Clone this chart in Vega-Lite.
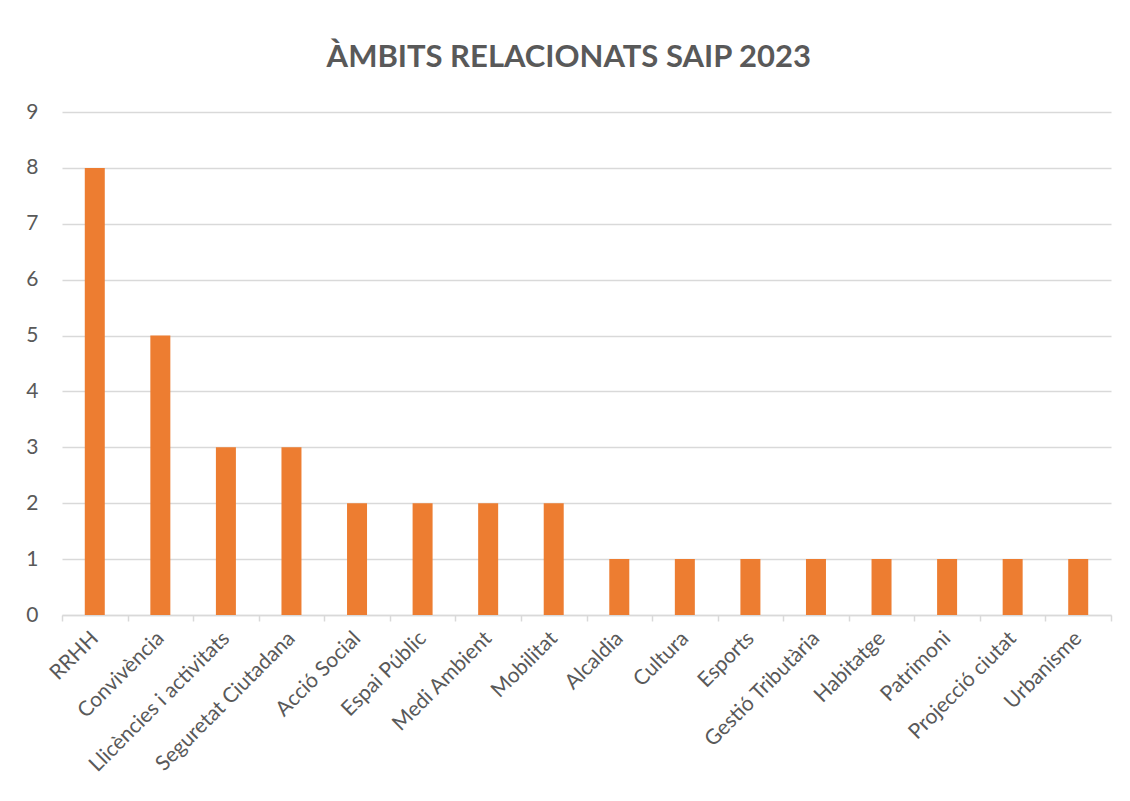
{
  "$schema": "https://vega.github.io/schema/vega-lite/v6.json",
  "width": 1049,
  "height": 503,
  "autosize": {"type": "none"},
  "padding": {"left": 62, "top": 112, "right": 19, "bottom": 186},
  "background": "white",
  "title": {
    "text": "ÀMBITS RELACIONATS SAIP 2023",
    "font": "Lato",
    "fontSize": 31,
    "fontWeight": "bold",
    "color": "#595959",
    "anchor": "middle",
    "frame": "bounds",
    "offset": 27
  },
  "data": {
    "values": [
      {"ambit": "RRHH", "n": 8},
      {"ambit": "Convivència", "n": 5},
      {"ambit": "Llicències i activitats", "n": 3},
      {"ambit": "Seguretat Ciutadana", "n": 3},
      {"ambit": "Acció Social", "n": 2},
      {"ambit": "Espai Públic", "n": 2},
      {"ambit": "Medi Ambient", "n": 2},
      {"ambit": "Mobilitat", "n": 2},
      {"ambit": "Alcaldia", "n": 1},
      {"ambit": "Cultura", "n": 1},
      {"ambit": "Esports", "n": 1},
      {"ambit": "Gestió Tributària", "n": 1},
      {"ambit": "Habitatge", "n": 1},
      {"ambit": "Patrimoni", "n": 1},
      {"ambit": "Projecció ciutat", "n": 1},
      {"ambit": "Urbanisme", "n": 1}
    ]
  },
  "mark": {"type": "bar", "color": "#ED7D31", "size": 20},
  "encoding": {
    "x": {
      "field": "ambit",
      "type": "nominal",
      "sort": null,
      "scale": {"paddingInner": 0, "paddingOuter": 0},
      "axis": {
        "title": null,
        "labelAngle": -45,
        "labelAlign": "right",
        "labelBaseline": "middle",
        "labelFont": "Lato",
        "labelFontSize": 21,
        "labelColor": "#595959",
        "labelPadding": 14,
        "labelLimit": 400,
        "labelOverlap": false,
        "domainColor": "#D9D9D9",
        "domainWidth": 1.5,
        "tickColor": "#D9D9D9",
        "tickWidth": 1.5,
        "tickSize": 6,
        "tickBand": "extent",
        "grid": false
      }
    },
    "y": {
      "field": "n",
      "type": "quantitative",
      "scale": {"domain": [0, 9], "nice": false},
      "axis": {
        "title": null,
        "values": [0, 1, 2, 3, 4, 5, 6, 7, 8, 9],
        "labelFont": "Lato",
        "labelFontSize": 21,
        "labelColor": "#595959",
        "labelPadding": 24,
        "domain": false,
        "ticks": false,
        "grid": true,
        "gridColor": "#D9D9D9",
        "gridWidth": 1.5
      }
    }
  },
  "config": {"view": {"stroke": null}}
}
